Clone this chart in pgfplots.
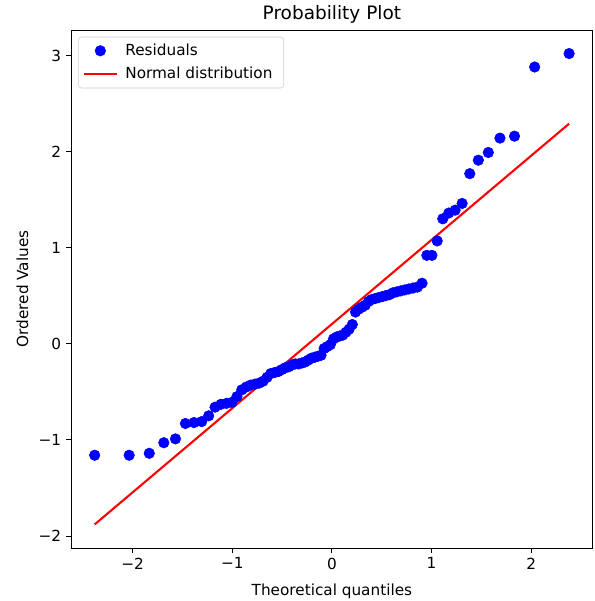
\documentclass[border=0pt]{standalone}
\usepackage{fontspec}
\setmainfont{DejaVu Sans}
\usepackage{pgfplots}
\pgfplotsset{compat=1.18}
\usetikzlibrary{calc}
\pgfplotsset{
    dotlegend/.style={legend image code/.code={\draw[##1] plot coordinates {(0.42cm,0cm)};}},
    linelegend/.style={legend image code/.code={\draw[##1] (0cm,0cm) -- (0.85cm,0cm);}},
}

\begin{document}
\begin{tikzpicture}
\begin{axis}[
    scale only axis,
    width=375.8pt,
    height=373pt,
    xmin=-2.619, xmax=2.619,
    ymin=-2.125, ymax=3.265,
    xtick={-2,-1,0,1,2},
    xticklabels={−2,−1,0,1,2},
    ytick={-2,-1,0,1,2,3},
    yticklabels={−2,−1,0,1,2,3},
    tick align=outside,
    tick pos=left,
    major tick length=3.5pt,
    tick style={black, line width=0.6pt},
    axis line style={line width=0.6pt},
    tick label style={font=\fontsize{11}{13}\selectfont},
    label style={font=\fontsize{11}{13}\selectfont},
    title style={font=\fontsize{13.3}{15}\selectfont, yshift=-5pt},
    title={Probability Plot},
    xlabel={Theoretical quantiles},
    ylabel={Ordered Values},
    xlabel style={yshift=-4pt},
    ylabel style={yshift=0.5pt},
    legend cell align=left,
    legend style={font=\fontsize{11}{13}\selectfont, draw=black!20, rounded corners=2pt,
        at={(0.014,0.987)}, anchor=north west, inner xsep=3pt, inner ysep=3pt,
        row sep=3pt, nodes={inner xsep=5pt}},
]
\addplot[only marks, mark=*, mark size=3.8pt, color=blue, draw=blue, fill=blue, dotlegend] coordinates {
(-2.381,-1.16) (-2.035,-1.16) (-1.833,-1.14) (-1.687,-1.03) (-1.570,-0.99)
(-1.470,-0.83) (-1.384,-0.82) (-1.307,-0.81) (-1.237,-0.75) (-1.173,-0.66)
(-1.113,-0.63) (-1.057,-0.62) (-1.004,-0.61) (-0.953,-0.55) (-0.905,-0.48)
(-0.859,-0.45) (-0.815,-0.43) (-0.772,-0.42) (-0.731,-0.41) (-0.691,-0.39)
(-0.651,-0.35) (-0.613,-0.31) (-0.576,-0.30) (-0.539,-0.29) (-0.504,-0.27)
(-0.468,-0.25) (-0.434,-0.24) (-0.400,-0.22) (-0.367,-0.21) (-0.334,-0.21)
(-0.301,-0.20) (-0.269,-0.19) (-0.237,-0.17) (-0.205,-0.15) (-0.172,-0.14)
(-0.141,-0.13) (-0.109,-0.12) (-0.078,-0.05) (-0.047,-0.03) (-0.016,-0.01)
(0.016,0.05) (0.047,0.07) (0.078,0.08) (0.109,0.09) (0.141,0.12)
(0.172,0.15) (0.205,0.20) (0.237,0.33) (0.269,0.36) (0.301,0.38)
(0.334,0.40) (0.367,0.44) (0.400,0.46) (0.434,0.47) (0.468,0.48)
(0.504,0.49) (0.539,0.50) (0.576,0.51) (0.613,0.53) (0.651,0.54)
(0.691,0.55) (0.731,0.56) (0.772,0.57) (0.815,0.58) (0.859,0.59)
(0.905,0.63) (0.953,0.92) (1.004,0.92) (1.057,1.07) (1.113,1.30)
(1.173,1.36) (1.237,1.39) (1.307,1.46) (1.384,1.77) (1.470,1.91)
(1.570,1.99) (1.687,2.14) (1.833,2.16) (2.035,2.88) (2.381,3.02)
};
\addlegendentry{Residuals}
\addplot[red, line width=1.5pt, linelegend]
    coordinates {(-2.381,-1.880) (2.381,2.290)};
\addlegendentry{Normal distribution}
\end{axis}
% page frame as in the reference: 71px left, 53px below, 2px right, 30px above
\pgfresetboundingbox
\path ($(current axis.south west)+(-51.1pt,-38.2pt)$) rectangle ($(current axis.north east)+(1.4pt,21.6pt)$);
\end{tikzpicture}
\end{document}
